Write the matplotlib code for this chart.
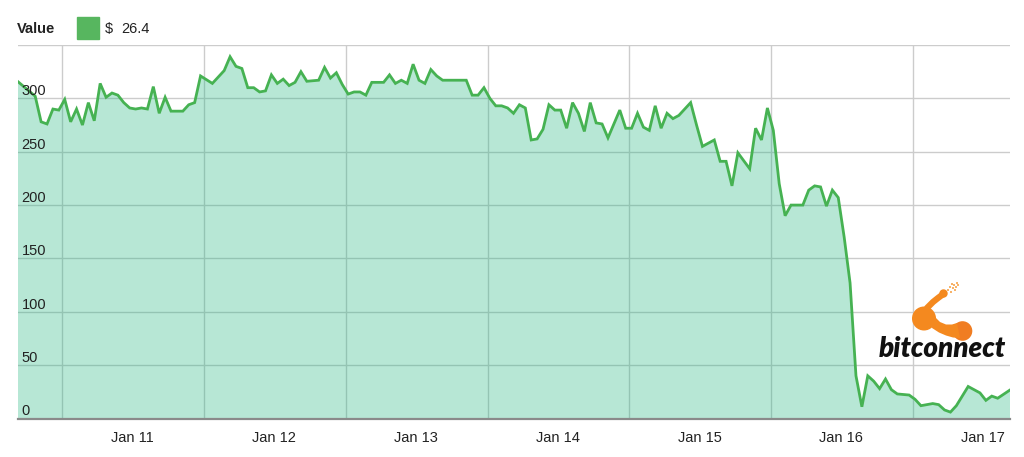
import matplotlib
matplotlib.use("Agg")
import matplotlib.pyplot as plt
from matplotlib.patches import Rectangle, Circle, Polygon

# ---------------- data ----------------
hours = [4, 7, 8, 9, 10, 11, 12, 13, 14, 15,
         16, 17, 18, 19, 20, 21, 22, 23, 24, 25,
         26, 27, 28, 29, 30, 31, 32, 33, 34, 35,
         37, 39, 40, 41, 42, 43, 44, 45, 46, 47,
         48, 49, 50, 51, 52, 53, 55, 56, 57, 58,
         59, 60, 61, 62, 63, 64, 65, 66, 67, 68,
         69, 70, 71, 72, 73, 74, 75, 76, 80, 81,
         82, 83, 84, 85, 86, 87, 88, 89, 90, 91,
         92, 93, 94, 95, 96, 97, 98, 99, 100, 101,
         102, 103, 104, 106, 107, 108, 109, 110, 111, 112,
         113, 114, 115, 116, 118, 119, 120, 122, 123, 124,
         125, 126, 128, 129, 130, 131, 132, 133, 134, 135,
         137, 138, 139, 140, 141, 142, 143, 144, 145, 146,
         147, 148, 149, 150, 151, 152, 153, 155, 156, 157,
         159, 160, 161, 162, 163, 165, 166, 167, 168, 169,
         170, 172]
values = [316, 302, 278, 276, 290, 289, 299, 278, 290, 275,
          296, 279, 314, 301, 305, 303, 296, 291, 290, 291,
          290, 311, 286, 301, 288, 288, 288, 294, 296, 321,
          314, 326, 339, 330, 328, 310, 310, 306, 307, 322,
          314, 318, 312, 315, 325, 316, 317, 329, 319, 324,
          313, 304, 306, 306, 303, 315, 315, 315, 322, 314,
          317, 314, 332, 317, 314, 327, 321, 317, 317, 303,
          303, 310, 300, 293, 293, 291, 286, 294, 291, 261,
          262, 271, 294, 289, 289, 272, 296, 286, 269, 296,
          277, 276, 263, 289, 272, 272, 286, 273, 270, 293,
          272, 286, 281, 284, 296, 275, 255, 261, 241, 241,
          218, 249, 234, 272, 261, 291, 270, 220, 190, 200,
          200, 214, 218, 217, 199, 214, 207, 170, 127, 40,
          11, 40, 35, 28, 37, 27, 23, 22, 18, 12,
          14, 13, 8, 6, 12, 30, 27, 24, 17, 21,
          19, 26.4]

x_labels = ["Jan 11", "Jan 12", "Jan 13", "Jan 14", "Jan 15", "Jan 16", "Jan 17"]
y_ticks = [0, 50, 100, 150, 200, 250, 300, 350]
y_labels = ["0", "50", "100", "150", "200", "250", "300"]
series_name = "Value"

# ---------------- figure ----------------
W, H = 1024, 457
fig = plt.figure(figsize=(W / 100, H / 100), dpi=100)
plt.rcParams['font.family'] = ['Liberation Sans', 'DejaVu Sans']

left_px, right_px, top_px, bottom_px = 17.5, 1009.5, 45, 418.5
ax = fig.add_axes([left_px / W, 1 - bottom_px / H,
                   (right_px - left_px) / W, (bottom_px - top_px) / H])

line_color = '#46b252'
ax.fill_between(hours, values, 0, color='#1fb57f', alpha=0.32, lw=0, zorder=1)
ax.plot(hours, values, color=line_color, lw=2.0, zorder=2, solid_joinstyle='miter')

ax.set_xlim(4, 172)
ax.set_ylim(0, 350)

# gridlines
ax.set_yticks(y_ticks)
ax.set_yticklabels([])
ax.set_xticks([23.5 + 24 * i for i in range(len(x_labels))])
ax.set_xticklabels(x_labels, fontsize=10.5, color='#222222')
ax.set_xticks([11.6 + 24 * i for i in range(len(x_labels))], minor=True)
ax.tick_params(axis='both', which='both', length=0)
ax.tick_params(axis='x', pad=9)
ax.set_axisbelow(True)
ax.grid(axis='y', which='major', color='#cccccc', lw=1.0)
ax.grid(axis='x', which='minor', color='#cccccc', lw=1.0)
ax.grid(axis='x', which='major', visible=False)
for s in ax.spines.values():
    s.set_visible(False)
ax.axhline(0, color='#8a8a8a', lw=1.6, zorder=3, clip_on=False)

for v, lab in zip(y_ticks, y_labels):
    ax.annotate(lab, xy=(0, v), xycoords=('axes fraction', 'data'),
                xytext=(3, 2.2), textcoords='offset points',
                ha='left', va='baseline', fontsize=10.5, color='#222222', zorder=4)

# legend
fig.text(17 / W, 1 - 29 / H, series_name, fontsize=10.5, fontweight='bold',
         color='#222222', ha='left', va='center')
fig.patches.append(Rectangle((77 / W, 1 - 39 / H), 22 / W, 22 / H,
                             transform=fig.transFigure, color='#57b65f'))
fig.text(105 / W, 1 - 29 / H, "$", fontsize=10.5,
         color='#222222', ha='left', va='center')
fig.text(121 / W, 1 - 29 / H, f"{values[-1]}", fontsize=10.5,
         color='#222222', ha='left', va='center')

# bitconnect logo (decoration, pixel coordinates)
lax = fig.add_axes([0, 0, 1, 1], zorder=5)
lax.set_xlim(0, W)
lax.set_ylim(H, 0)
lax.axis('off')
lax.patch.set_alpha(0)
orange = '#f4891f'
lax.add_patch(Circle((924, 318.5), 12, color=orange, lw=0))
lax.add_patch(Circle((962.5, 331), 9.8, color='#f07d22', lw=0))
lax.add_patch(Polygon([(933, 312), (936, 318), (940, 322), (946, 324.5), (952, 324.5),
                       (957, 323), (960, 338), (953, 337.5), (946, 335.5), (939, 332.5),
                       (932, 328)], closed=True, color=orange, lw=0))
lax.plot([927, 933, 938, 942], [308, 302, 298, 295], color=orange, lw=4.5,
         solid_capstyle='round')
lax.add_patch(Circle((943.5, 293.5), 4.2, color=orange, lw=0))
for (dx, dy) in [(947, 289), (950, 291), (949, 286), (952, 287), (953, 284),
                 (955, 286), (951, 283), (956, 282), (954, 289), (957, 284)]:
    lax.add_patch(Rectangle((dx, dy), 1.8, 1.8, color='#f7b36a', lw=0))
lax.text(879, 357, "bitconnect", fontsize=20, fontweight='heavy', fontstyle='italic',
         family=['Lato', 'DejaVu Sans'], color='#111111', ha='left', va='baseline')

fig.savefig('out.png', dpi=100)
